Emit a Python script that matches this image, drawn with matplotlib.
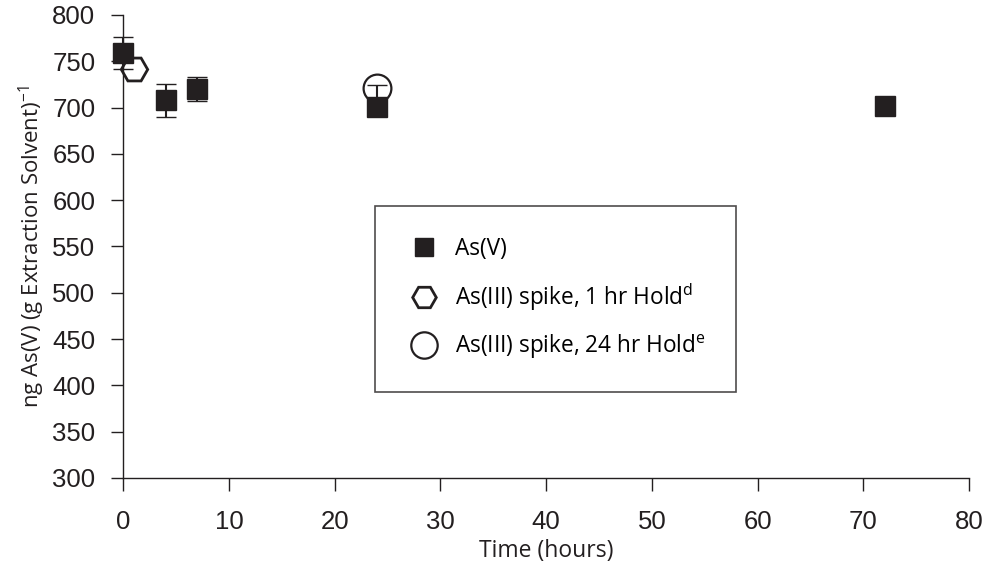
import matplotlib.pyplot as plt

# data
asv_time = [0, 4, 7, 24, 72]
asv_conc = [759, 708, 720, 701, 702]
asv_err_low = [17, 18, 13, 0, 0]
asv_err_high = [17, 18, 13, 23, 0]

spike1_time = [1]
spike1_conc = [742]
spike1_err = [6]

spike24_time = [24]
spike24_conc = [721]

xticks = [0, 10, 20, 30, 40, 50, 60, 70, 80]
yticks = [300, 350, 400, 450, 500, 550, 600, 650, 700, 750, 800]

label_font = 'Open Sans'
tick_font = 'Liberation Sans'
ink = '#231f20'

fig = plt.figure(figsize=(9.86, 5.66), dpi=100)
ax = fig.add_axes([0.125, 0.1555, 0.858, 0.818])

ax.errorbar(spike1_time, spike1_conc, yerr=spike1_err, fmt='H', markersize=19,
            markerfacecolor='white', markeredgecolor=ink, markeredgewidth=2,
            ecolor=ink, elinewidth=1.2, capsize=5, label='As(III) spike, 1 hr Hold$^{\\mathregular{d}}$', zorder=2)
ax.errorbar(asv_time, asv_conc, yerr=[asv_err_low, asv_err_high], fmt='s', markersize=14,
            color=ink, ecolor=ink, elinewidth=1.5, capsize=7,
            label='As(V)', zorder=3)
ax.plot(spike24_time, spike24_conc, 'o', markersize=20,
        markerfacecolor='none', markeredgecolor=ink, markeredgewidth=1.6,
        label='As(III) spike, 24 hr Hold$^{\\mathregular{e}}$', zorder=4)

ax.set_xlim(0, 80)
ax.set_ylim(300, 800)
ax.set_xticks(xticks)
ax.set_yticks(yticks)
for lab in ax.get_xticklabels() + ax.get_yticklabels():
    lab.set_fontfamily(tick_font)
    lab.set_fontsize(18.5)
    lab.set_color(ink)
ax.tick_params(axis='y', direction='out', length=9, width=1, color=ink, pad=11)
ax.tick_params(axis='x', direction='out', length=9, width=1, color=ink, pad=14)
ax.spines['top'].set_visible(False)
ax.spines['right'].set_visible(False)
for s in ['left', 'bottom']:
    ax.spines[s].set_color(ink)
    ax.spines[s].set_linewidth(1)
for artist in ax.get_children():
    try:
        artist.set_clip_on(False)
    except Exception:
        pass

ax.set_xlabel('Time (hours)', fontfamily=label_font, fontsize=16.5, color=ink, labelpad=4)
ax.set_ylabel('ng As(V) (g Extraction Solvent)$^{\\mathregular{-1}}$', fontfamily=label_font,
              fontsize=16, color=ink, labelpad=4)

handles, labels = ax.get_legend_handles_labels()
hmap = dict(zip(labels, handles))
order = ['As(V)', 'As(III) spike, 1 hr Hold$^{\\mathregular{d}}$', 'As(III) spike, 24 hr Hold$^{\\mathregular{e}}$']
hs = []
for k in order:
    h = hmap[k]
    hs.append(h[0] if isinstance(h, tuple) else h)
leg = ax.legend(hs, order,
                loc='center', bbox_to_anchor=(0.511, 0.3866), prop={'family': label_font, 'size': 16.3},
                frameon=True, fancybox=False, edgecolor=ink, borderpad=1.35,
                labelspacing=0.9, handletextpad=0.5, handlelength=1.7, borderaxespad=0)
leg.get_frame().set_linewidth(1.2)
for h in leg.legend_handles:
    if h.get_marker() == 's':
        h.set_markersize(13)
    elif h.get_marker() == 'H':
        h.set_markersize(17)
    else:
        h.set_markersize(19)

fig.savefig('out.png', dpi=100)
